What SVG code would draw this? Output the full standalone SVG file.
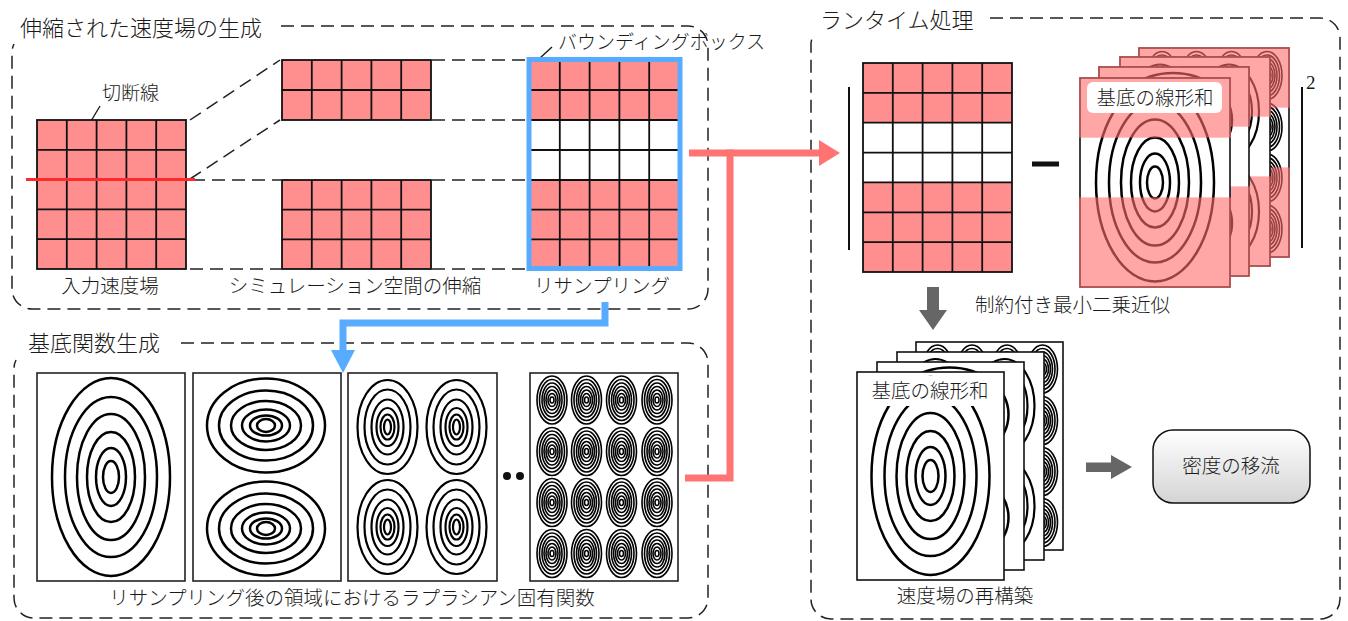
<svg xmlns="http://www.w3.org/2000/svg" xmlns:xlink="http://www.w3.org/1999/xlink" width="1348" height="621" viewBox="0 0 1348 621">
<style>
.t{font-family:"Noto Sans CJK JP","Noto Sans CJK SC",sans-serif;fill:#1a1a1a;font-weight:300}
.tt{font-size:22px}
.tl{font-size:19.5px}
.pink{fill:#ff8f8f}
.wh{fill:#fff}
.gl{stroke:#111;stroke-width:1.8;fill:none}
.dash{fill:none;stroke:#222;stroke-width:1.5;stroke-dasharray:13 7}
.panel{fill:#fff;stroke:#222;stroke-width:1.6}
.card{fill:#fff}
.cardb{fill:none;stroke:#111;stroke-width:1.6}
.ov{fill:#ff6a6a;fill-opacity:0.6}
.lead{stroke:#111;stroke-width:1.3;fill:none}
.red{fill:none;stroke:#ff7373;stroke-width:7}
.blue{fill:none;stroke:#58acff;stroke-width:7}
.gray{fill:#666}
</style>
<defs>
<linearGradient id="gbox" x1="0" y1="0" x2="0" y2="1"><stop offset="0" stop-color="#ffffff"/><stop offset="1" stop-color="#d4d4d4"/></linearGradient>
<marker id="ra" markerUnits="userSpaceOnUse" markerWidth="22" markerHeight="28" viewBox="0 0 22 28" refX="1" refY="14" orient="auto"><path d="M0 1 L21 14 L0 27 Z" fill="#ff7373"/></marker>
<marker id="ba" markerUnits="userSpaceOnUse" markerWidth="24" markerHeight="26" viewBox="0 0 24 26" refX="1" refY="12" orient="auto"><path d="M0 0 L23 12 L0 24 Z" fill="#58acff"/></marker>
<g id="p1" fill="none" stroke="#000" stroke-width="2.5"><ellipse rx="59" ry="99"/><ellipse rx="46" ry="80"/><ellipse rx="34" ry="63"/><ellipse rx="24" ry="45"/><ellipse rx="15" ry="29"/><ellipse rx="8" ry="16"/></g>
<g id="s2" fill="none" stroke="#000" stroke-width="2.5"><ellipse rx="59" ry="47"/><ellipse rx="47" ry="35"/><ellipse rx="35" ry="24.5"/><ellipse rx="24" ry="16"/><ellipse rx="16" ry="10"/><ellipse rx="9" ry="6.5"/></g>
<g id="p2"><use href="#s2" x="-1" y="-51.5"/><use href="#s2" x="-1" y="51.5"/></g>
<g id="s3" fill="none" stroke="#000" stroke-width="2.2"><ellipse rx="30" ry="47"/><ellipse rx="23" ry="37.5"/><ellipse rx="16" ry="27.5"/><ellipse rx="11" ry="19"/><ellipse rx="7" ry="12.5"/><ellipse rx="3.5" ry="7.5"/></g>
<g id="p3"><use href="#s3" x="-35" y="-50"/><use href="#s3" x="34" y="-50"/><use href="#s3" x="-35" y="50"/><use href="#s3" x="34" y="50"/></g>
<g id="s4" fill="none" stroke="#000" stroke-width="1.6"><ellipse rx="15" ry="24"/><ellipse rx="12.5" ry="20.5"/><ellipse rx="10" ry="17"/><ellipse rx="8" ry="13.5"/><ellipse rx="6" ry="10"/><ellipse rx="4" ry="6.5"/><ellipse rx="2" ry="3"/></g>
<g id="p4">
<use href="#s4" x="-52" y="-77"/><use href="#s4" x="-17.5" y="-77"/><use href="#s4" x="17.5" y="-77"/><use href="#s4" x="53" y="-77"/>
<use href="#s4" x="-52" y="-25.5"/><use href="#s4" x="-17.5" y="-25.5"/><use href="#s4" x="17.5" y="-25.5"/><use href="#s4" x="53" y="-25.5"/>
<use href="#s4" x="-52" y="25.5"/><use href="#s4" x="-17.5" y="25.5"/><use href="#s4" x="17.5" y="25.5"/><use href="#s4" x="53" y="25.5"/>
<use href="#s4" x="-52" y="76.5"/><use href="#s4" x="-17.5" y="76.5"/><use href="#s4" x="17.5" y="76.5"/><use href="#s4" x="53" y="76.5"/>
</g>
<clipPath id="clipT"><rect width="150" height="209"/></clipPath>
<clipPath id="clipB"><rect width="147" height="208"/></clipPath>
</defs>
<rect width="1348" height="621" fill="#fff"/>

<!-- group frames -->
<g id="frame-stretch">
<path class="dash" d="M281 26 H688 A20 20 0 0 1 708 46 V289 A20 20 0 0 1 688 309 H32 A20 20 0 0 1 12 289 V52 A20 20 0 0 1 14 44"/>
<text class="t tt" x="20" y="36">伸縮された速度場の生成</text>
</g>
<g id="frame-basis">
<path class="dash" d="M181 343 H688 A20 20 0 0 1 708 363 V598 A20 20 0 0 1 688 618 H34 A20 20 0 0 1 14 598 V368 A20 20 0 0 1 16 360"/>
<text class="t tt" x="28" y="351">基底関数生成</text>
</g>
<g id="frame-runtime">
<path class="dash" d="M990 18 H1320 A20 20 0 0 1 1340 38 V599 A20 20 0 0 1 1320 619 H831 A20 20 0 0 1 811 599 V44 A20 20 0 0 1 813 36"/>
<text class="t tt" x="820" y="28">ランタイム処理</text>
</g>

<!-- connectors -->
<g id="connectors">
<path class="dash" d="M190 120 L280 60 M190 179 L280 120 M192 180 H281 M190 269 H281"/>
<path class="dash" d="M432 60 H528 M432 120 H528 M432 180 H528 M432 269 H528"/>
<path class="lead" d="M100 106 L57 178"/>
<path class="lead" d="M540 58 L552 47"/>
<path class="red" d="M689 153 H820" marker-end="url(#ra)"/>
<path class="red" d="M685 478 H730 V149.5"/>
<path class="blue" d="M605 302 V323 H343 V351" marker-end="url(#ba)"/>
<path class="gray" d="M927 287 H939 V310 H947 L933 330 L919 310 H927 Z"/>
<path class="gray" d="M1086 462.5 H1111 V455 L1132 467 L1111 479 V472 H1086 Z"/>
</g>

<!-- input velocity field -->
<g id="input-field">
<rect class="pink" x="37" y="120" width="149" height="149"/>
<path class="gl" d="M66.8 120 V269 M96.6 120 V269 M126.4 120 V269 M156.2 120 V269 M37 149.8 H186 M37 179.6 H186 M37 209.4 H186 M37 239.2 H186"/>
<rect class="gl" x="37" y="120" width="149" height="149"/>
<line x1="26" y1="179.6" x2="195" y2="179.6" stroke="#ff2a2a" stroke-width="3"/>
<text class="t" font-size="19" x="102" y="100">切断線</text>
<text class="t tl" x="110" y="293" text-anchor="middle">入力速度場</text>
</g>

<!-- stretched simulation space -->
<g id="stretched-space">
<rect class="pink" x="282" y="60" width="149" height="60"/>
<path class="gl" d="M311.8 60 V120 M341.6 60 V120 M371.4 60 V120 M401.2 60 V120 M282 90 H431"/>
<rect class="gl" x="282" y="60" width="149" height="60"/>
<rect class="pink" x="282" y="180" width="149" height="89"/>
<path class="gl" d="M311.8 180 V269 M341.6 180 V269 M371.4 180 V269 M401.2 180 V269 M282 209.7 H431 M282 239.3 H431"/>
<rect class="gl" x="282" y="180" width="149" height="89"/>
<text class="t tl" x="355" y="293" text-anchor="middle">シミュレーション空間の伸縮</text>
</g>

<!-- resampling with bounding box -->
<g id="resampling">
<rect class="pink" x="530" y="60" width="149" height="60"/>
<rect class="wh" x="530" y="120" width="149" height="60"/>
<rect class="pink" x="530" y="180" width="149" height="89"/>
<path class="gl" d="M559.8 60 V269 M589.6 60 V269 M619.4 60 V269 M649.2 60 V269 M530 90 H679 M530 120 H679 M530 150 H679 M530 180 H679 M530 209.7 H679 M530 239.3 H679"/>
<rect x="529" y="59.5" width="151" height="209" fill="none" stroke="#58acff" stroke-width="5"/>
<text class="t" font-size="19" x="558" y="49">バウンディングボックス</text>
<text class="t tl" x="602" y="293" text-anchor="middle">リサンプリング</text>
</g>

<!-- basis function panels -->
<g id="basis-1"><rect class="panel" x="37" y="373" width="148" height="208"/><use href="#p1" x="111" y="477"/></g>
<g id="basis-2"><rect class="panel" x="193" y="373" width="148" height="208"/><use href="#p2" x="267" y="477"/></g>
<g id="basis-3"><rect class="panel" x="348" y="373" width="149" height="208"/><use href="#p3" x="422.5" y="477"/></g>
<g id="ellipsis"><circle cx="507" cy="476" r="4" fill="#111"/><circle cx="520" cy="476" r="4" fill="#111"/></g>
<g id="basis-n"><rect class="panel" x="530" y="373" width="148" height="208"/><use href="#p4" x="604" y="477"/></g>
<g id="basis-caption"><text class="t tl" x="352" y="605" text-anchor="middle">リサンプリング後の領域におけるラプラシアン固有関数</text></g>

<!-- runtime: masked velocity field -->
<g id="runtime-field">
<line x1="849" y1="87" x2="849" y2="250" stroke="#111" stroke-width="2"/>
<rect class="pink" x="863" y="63" width="149" height="59.7"/>
<rect class="wh" x="863" y="122.7" width="149" height="59.7"/>
<rect class="pink" x="863" y="182.4" width="149" height="89.6"/>
<path class="gl" d="M892.8 63 V272 M922.6 63 V272 M952.4 63 V272 M982.2 63 V272 M863 92.9 H1012 M863 122.7 H1012 M863 152.6 H1012 M863 182.4 H1012 M863 212.3 H1012 M863 242.1 H1012"/>
<rect class="gl" x="863" y="63" width="149" height="209"/>
<rect x="1032" y="161.5" width="27" height="5" fill="#111"/>
</g>

<!-- runtime: masked basis stack -->
<g id="masked-stack">
<g transform="translate(1139,48)"><rect class="card" width="150" height="209"/><g clip-path="url(#clipT)"><use href="#p4" x="75" y="104.5"/></g><rect class="cardb" width="150" height="209"/><rect class="ov" x="-1" y="-1" width="152" height="60.7"/><rect class="ov" x="-1" y="119.4" width="152" height="90.6"/></g>
<g transform="translate(1120,57)"><rect class="card" width="150" height="209"/><g clip-path="url(#clipT)"><use href="#p3" x="75" y="104.5"/></g><rect class="cardb" width="150" height="209"/><rect class="ov" x="-1" y="-1" width="152" height="60.7"/><rect class="ov" x="-1" y="119.4" width="152" height="90.6"/></g>
<g transform="translate(1099,67)"><rect class="card" width="150" height="209"/><g clip-path="url(#clipT)"><use href="#p2" x="75" y="104.5"/></g><rect class="cardb" width="150" height="209"/><rect class="ov" x="-1" y="-1" width="152" height="60.7"/><rect class="ov" x="-1" y="119.4" width="152" height="90.6"/></g>
<g transform="translate(1080,78)"><rect class="card" width="150" height="209"/><g clip-path="url(#clipT)"><use href="#p1" x="75" y="104.5"/></g><rect class="cardb" width="150" height="209"/><rect class="ov" x="-1" y="-1" width="152" height="60.7"/><rect class="ov" x="-1" y="119.4" width="152" height="90.6"/><rect x="7" y="4" width="135" height="31" rx="6" fill="#fff"/></g>
<text class="t tl" x="1155" y="105" text-anchor="middle">基底の線形和</text>
<line x1="1302" y1="87" x2="1302" y2="248" stroke="#111" stroke-width="2"/>
<text x="1306" y="89" font-family="Liberation Serif, serif" font-size="19" fill="#1a1a1a">2</text>
</g>
<g id="lsq-label"><text class="t tl" x="975" y="312">制約付き最小二乗近似</text></g>

<!-- reconstruction stack -->
<g id="reconstruction">
<g transform="translate(916,342)"><rect class="card" width="147" height="208"/><g clip-path="url(#clipB)"><use href="#p4" x="73.5" y="104"/></g><rect class="cardb" width="147" height="208"/></g>
<g transform="translate(897,352)"><rect class="card" width="147" height="208"/><g clip-path="url(#clipB)"><use href="#p3" x="73.5" y="104"/></g><rect class="cardb" width="147" height="208"/></g>
<g transform="translate(877,362)"><rect class="card" width="147" height="208"/><g clip-path="url(#clipB)"><use href="#p2" x="73.5" y="104"/></g><rect class="cardb" width="147" height="208"/></g>
<g transform="translate(857,372)"><rect class="card" width="147" height="208"/><g clip-path="url(#clipB)"><use href="#p1" x="73.5" y="104"/></g><rect x="6" y="4" width="135" height="30" fill="#fff"/><rect class="cardb" width="147" height="208"/></g>
<text class="t tl" x="930" y="398" text-anchor="middle">基底の線形和</text>
<text class="t tl" x="965" y="603" text-anchor="middle">速度場の再構築</text>
</g>

<!-- density advection -->
<g id="advection">
<rect x="1153" y="430" width="157" height="73" rx="20" fill="url(#gbox)" stroke="#111" stroke-width="1.5"/>
<text class="t tl" x="1231" y="473" text-anchor="middle">密度の移流</text>
</g>
</svg>
